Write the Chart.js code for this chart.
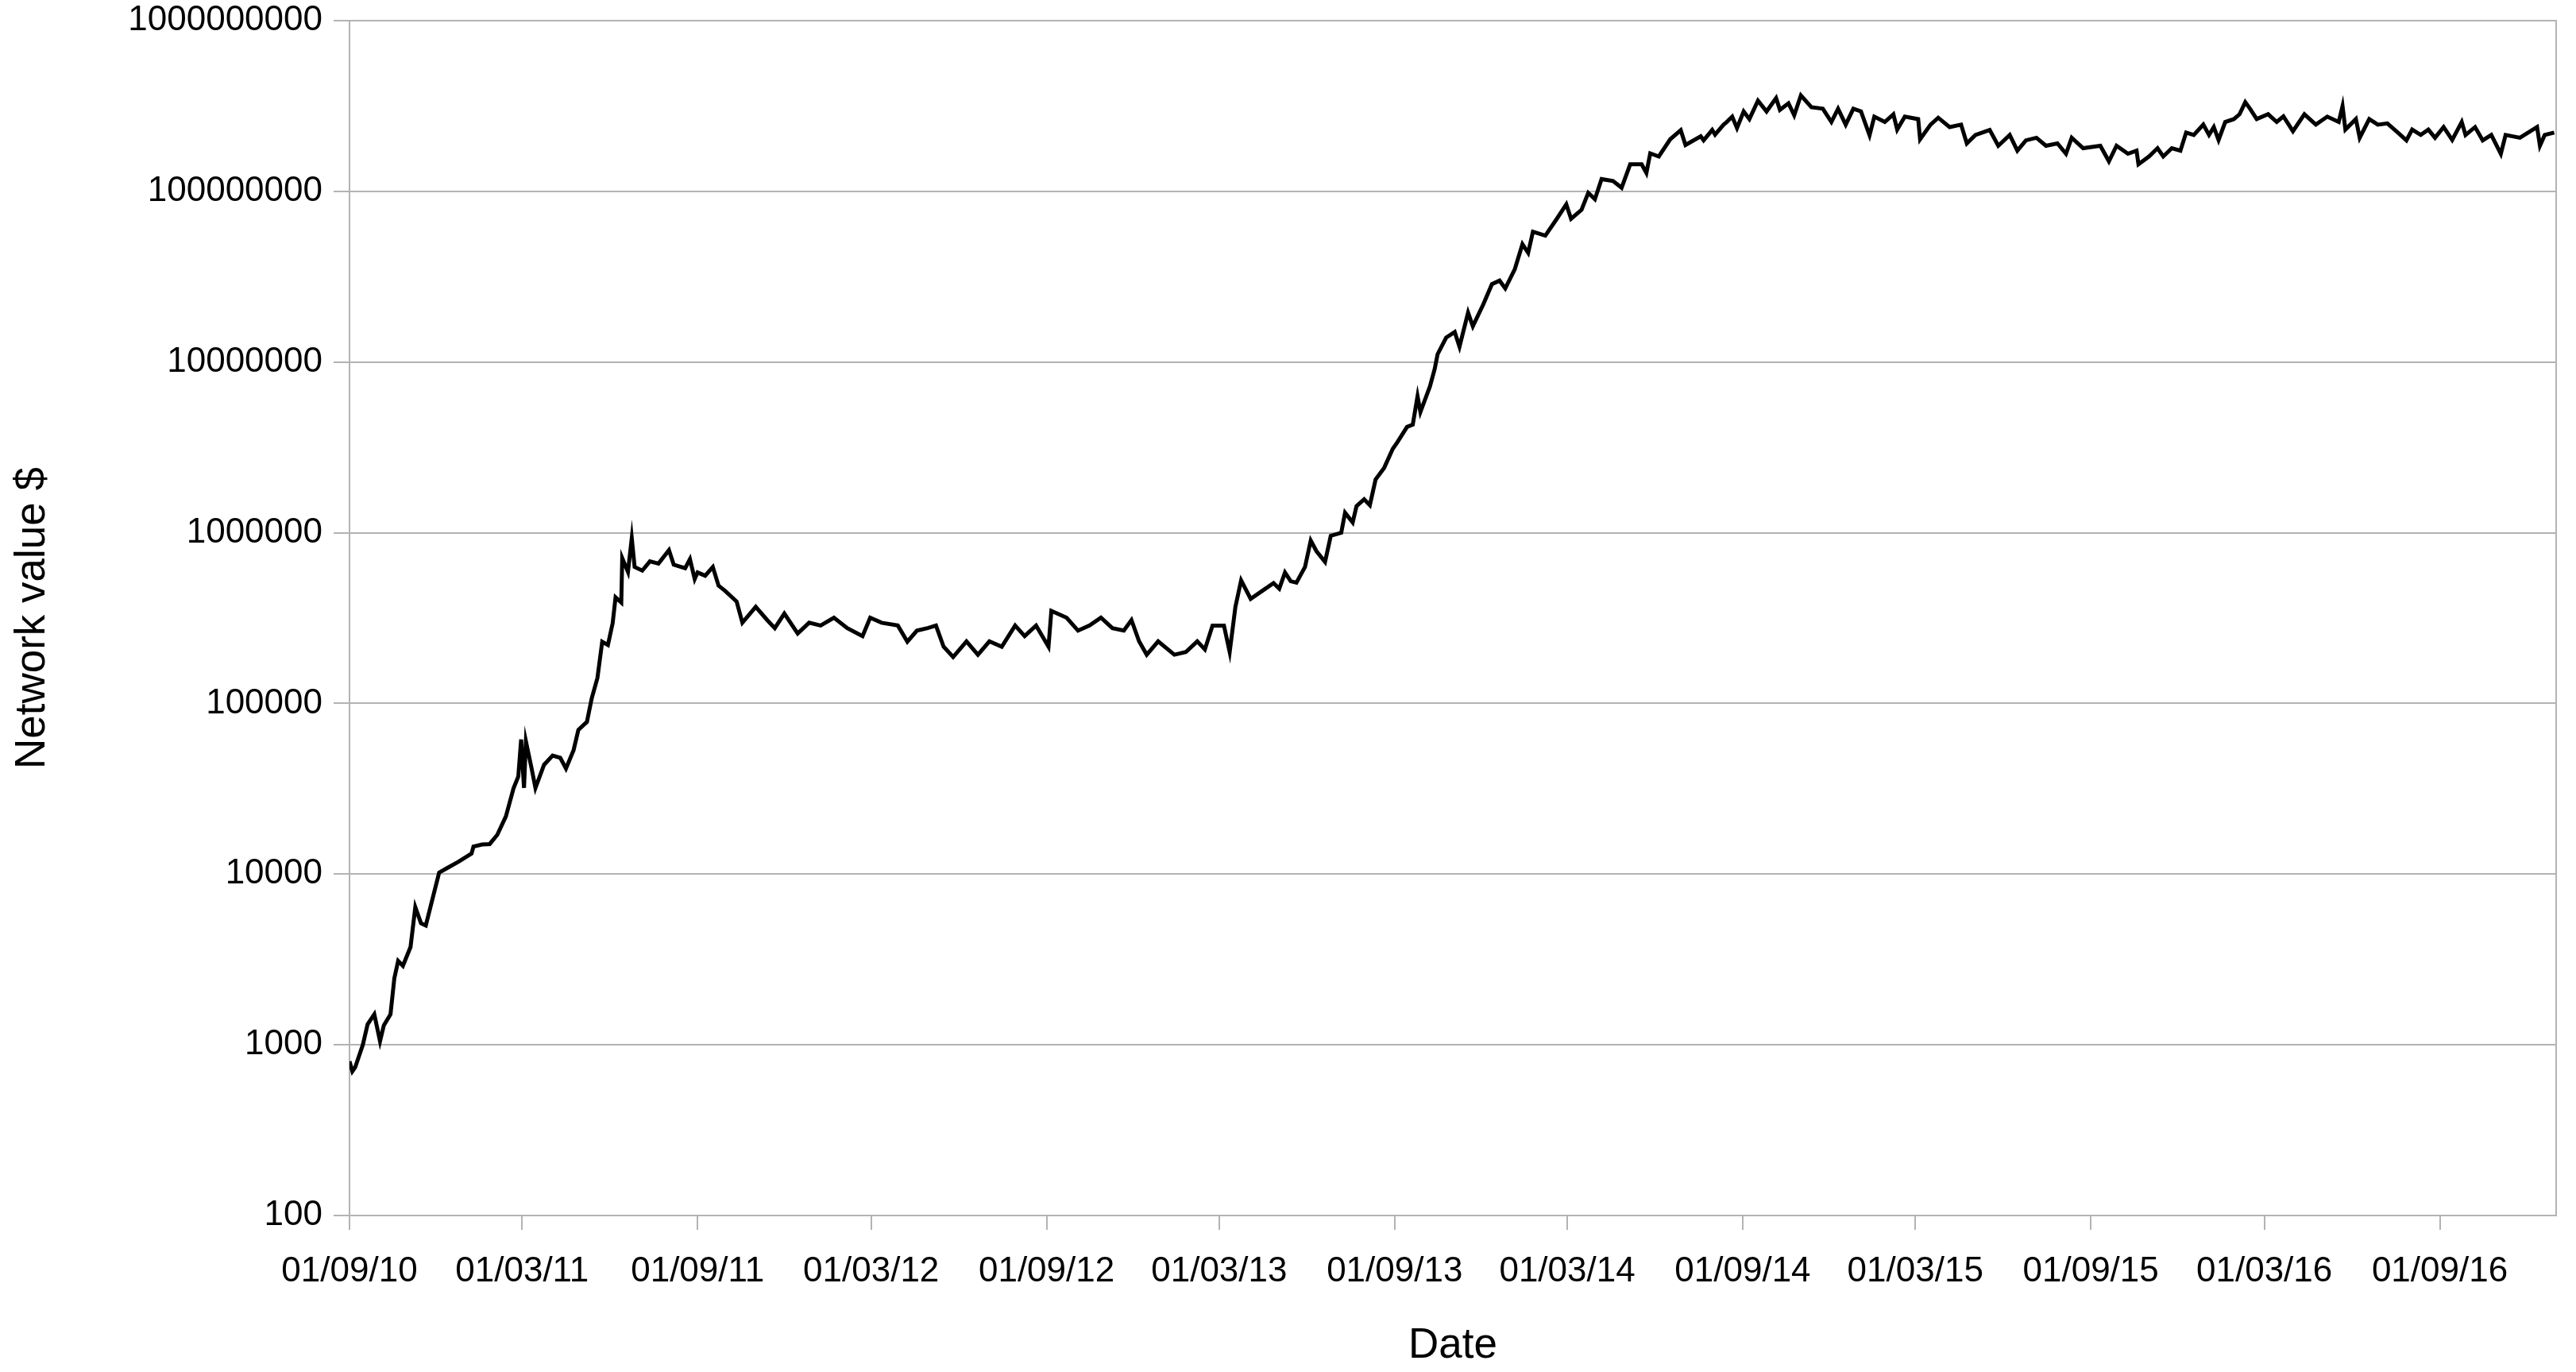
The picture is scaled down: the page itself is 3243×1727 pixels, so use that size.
<!DOCTYPE html>
<html>
<head>
<meta charset="utf-8">
<title>Network value</title>
<script src="https://cdn.jsdelivr.net/npm/chart.js@4.4.1/dist/chart.umd.min.js"></script>
<style>
  html, body { margin: 0; padding: 0; background: #fff; }
  #wrap { width: 3243px; height: 1727px; }
</style>
</head>
<body>
<div id="wrap"><canvas id="chart" width="3243" height="1727"></canvas></div>
<script>
// x values are days counted from 01/09/10
const startDate = Date.UTC(2010, 8, 1);

const days = [
  0, 3, 6, 14, 19, 26, 32, 36, 43, 47, 51, 56, 64, 69, 75, 80, 86, 94, 103, 114,
  128, 130, 139, 147, 155, 164, 172, 177, 180, 183, 185, 191, 195, 204, 213, 221, 227, 235, 240, 249,
  254, 260, 265, 271, 276, 279, 285, 286, 292, 296, 299, 307, 315, 324, 335, 340, 352, 357, 362, 365,
  373, 381, 387, 394, 406, 412, 426, 438, 446, 456, 470, 482, 494, 508, 522, 538, 546, 558, 575, 585,
  595, 607, 615, 623, 633, 647, 659, 671, 684, 698, 708, 720, 733, 736, 752, 764, 776, 788, 800, 812,
  820, 828, 836, 848, 865, 877, 889, 897, 905, 917, 923, 929, 935, 945, 957, 969, 975, 981, 987, 993,
  1002, 1008, 1014, 1023, 1029, 1040, 1044, 1052, 1056, 1064, 1070, 1076, 1085, 1094, 1099, 1109, 1115, 1120, 1123, 1133,
  1138, 1141, 1150, 1159, 1164, 1173, 1178, 1189, 1198, 1206, 1212, 1222, 1230, 1236, 1241, 1254, 1266, 1276, 1281, 1292,
  1299, 1306, 1313, 1325, 1334, 1343, 1355, 1360, 1364, 1373, 1385, 1396, 1401, 1417, 1420, 1429, 1432, 1441, 1444, 1450,
  1455, 1462, 1468, 1477, 1486, 1496, 1500, 1509, 1515, 1522, 1533, 1545, 1554, 1561, 1569, 1577, 1585, 1594, 1599, 1610,
  1619, 1623, 1631, 1645, 1647, 1658, 1666, 1678, 1690, 1696, 1705, 1720, 1729, 1741, 1749, 1758, 1769, 1779, 1791, 1800,
  1806, 1818, 1836, 1845, 1853, 1865, 1874, 1876, 1887, 1896, 1902, 1911, 1920, 1926, 1934, 1944, 1950, 1955, 1960, 1967,
  1976, 1982, 1988, 1993, 2000, 2012, 2021, 2028, 2038, 2050, 2062, 2074, 2086, 2090, 2093, 2104, 2108, 2118, 2127, 2137,
  2148, 2157, 2163, 2172, 2180, 2187, 2196, 2205, 2215, 2219, 2229, 2237, 2246, 2256, 2261, 2276, 2294, 2297, 2302, 2312
];

const networkValue = [
  800, 700, 740, 1000, 1320, 1510, 1050, 1300, 1510, 2450, 3100, 2900, 3740, 6400, 5150, 5000, 6800, 10200, 10900, 11800,
  13200, 14500, 14900, 15000, 17000, 21800, 31800, 37300, 61500, 32000, 60000, 41500, 32000, 43700, 49500, 48000, 41500, 53300, 70000, 78000,
  107000, 141000, 230000, 220000, 296000, 418000, 390000, 710000, 590000, 930000, 630000, 600000, 680000, 660000, 790000, 650000, 620000, 700000, 535000, 585000,
  560000, 630000, 490000, 456000, 395000, 297000, 368000, 308000, 276000, 336000, 257000, 297000, 286000, 318000, 276000, 248000, 318000, 297000, 286000, 230000,
  267000, 277000, 286000, 215000, 187000, 231000, 193000, 231000, 215000, 286000, 248000, 286000, 215000, 348000, 318000, 267000, 286000, 318000, 276000, 267000,
  308000, 231000, 193000, 231000, 193000, 200000, 231000, 207000, 286000, 286000, 200000, 368000, 526000, 410000, 456000, 507000, 470000, 585000, 520000, 510000,
  630000, 900000, 780000, 675000, 960000, 1000000, 1310000, 1150000, 1430000, 1570000, 1450000, 2050000, 2400000, 3100000, 3400000, 4170000, 4300000, 6300000, 5100000, 7200000,
  9100000, 11100000, 13900000, 15000000, 12300000, 19500000, 16200000, 21800000, 28600000, 30000000, 27000000, 35000000, 49000000, 43600000, 58000000, 55000000, 69000000, 84000000, 69000000, 78000000,
  98000000, 90000000, 118000000, 115000000, 105000000, 144000000, 144000000, 128000000, 167000000, 160000000, 202000000, 228000000, 187000000, 210000000, 199000000, 229000000, 215000000, 246000000, 254000000, 274000000,
  235000000, 294000000, 265000000, 340000000, 294000000, 352000000, 300000000, 328000000, 279000000, 365000000, 311000000, 305000000, 255000000, 305000000, 246000000, 305000000, 294000000, 213000000, 274000000, 255000000,
  283000000, 230000000, 274000000, 265000000, 202000000, 246000000, 270000000, 238000000, 246000000, 191000000, 214000000, 229000000, 185000000, 214000000, 173000000, 199000000, 206000000, 185000000, 191000000, 166000000,
  206000000, 179000000, 185000000, 150000000, 185000000, 166000000, 173000000, 144000000, 160000000, 179000000, 160000000, 179000000, 173000000, 221000000, 214000000, 246000000, 214000000, 238000000, 200000000, 255000000,
  265000000, 283000000, 333000000, 305000000, 265000000, 283000000, 255000000, 275000000, 225000000, 283000000, 246000000, 274000000, 255000000, 316000000, 230000000, 265000000, 206000000, 265000000, 246000000, 250000000,
  221000000, 199000000, 230000000, 214000000, 230000000, 206000000, 238000000, 200000000, 255000000, 214000000, 238000000, 199000000, 214000000, 166000000, 214000000, 206000000, 238000000, 185000000, 214000000, 221000000
];

const xTickLabels = [
  '01/09/10', '01/03/11', '01/09/11', '01/03/12', '01/09/12', '01/03/13', '01/09/13',
  '01/03/14', '01/09/14', '01/03/15', '01/09/15', '01/03/16', '01/09/16'
];
const yTickValues = [100, 1000, 10000, 100000, 1000000, 10000000, 100000000, 1000000000];

// dd/mm/yy -> days since start
function labelToDay(label) {
  const [d, m, y] = label.split('/').map(Number);
  return Math.round((Date.UTC(2000 + y, m - 1, d) - startDate) / 86400000);
}
const xTickDays = xTickLabels.map(labelToDay);

const gridColor = '#b3b3b3';
const tickFont = { family: "'Liberation Sans', Arial, sans-serif", size: 44 };
const titleFont = { family: "'Liberation Sans', Arial, sans-serif", size: 53 };
Chart.defaults.color = '#000';

const points = days.map((d, i) => ({ x: d, y: networkValue[i] }));

new Chart(document.getElementById('chart').getContext('2d'), {
  type: 'line',
  data: {
    datasets: [{
      data: points,
      borderColor: '#000',
      borderWidth: 5,
      borderJoinStyle: 'miter',
      pointRadius: 0,
      tension: 0,
      fill: false
    }]
  },
  options: {
    responsive: false,
    animation: false,
    events: [],
    layout: { padding: { left: 0, right: 17, top: 26, bottom: 0 } },
    plugins: { legend: { display: false }, tooltip: { enabled: false } },
    scales: {
      x: {
        type: 'linear',
        min: 0,
        max: 2314,
        afterBuildTicks: (scale) => { scale.ticks = xTickDays.map(v => ({ value: v })); },
        afterFit: (scale) => { scale.height = 1727 - 1530; },
        ticks: {
          autoSkip: false,
          maxRotation: 0,
          padding: 26,
          font: tickFont,
          callback: (value, i) => xTickLabels[i]
        },
        grid: { drawOnChartArea: false, color: gridColor, lineWidth: 2, tickLength: 18 },
        border: { color: gridColor, width: 2 },
        title: { display: true, text: 'Date', font: titleFont, padding: { top: 0, bottom: 1 } }
      },
      y: {
        type: 'logarithmic',
        min: 100,
        max: 1000000000,
        afterBuildTicks: (scale) => { scale.ticks = yTickValues.map(v => ({ value: v })); },
        afterFit: (scale) => {
          scale.width = 440;
          // labels may overhang the top edge, as in the original
          scale.paddingTop = 0;
          scale.paddingBottom = 0;
        },
        ticks: {
          autoSkip: false,
          padding: 14,
          font: tickFont,
          callback: (value) => String(value)
        },
        grid: { color: gridColor, lineWidth: 2, tickLength: 20 },
        border: { color: gridColor, width: 2 },
        title: { display: true, text: 'Network value $', font: titleFont, padding: { top: 10, bottom: 0 } }
      },
      frame: {
        type: 'linear',
        position: 'right',
        display: true,
        ticks: { display: false },
        grid: { display: false },
        border: { color: gridColor, width: 2 }
      }
    }
  }
});
</script>
</body>
</html>
